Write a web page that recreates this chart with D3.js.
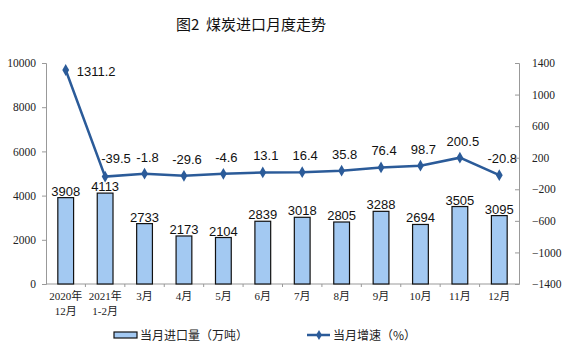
<!DOCTYPE html>
<html>
<head>
<meta charset="utf-8">
<script src="https://cdn.jsdelivr.net/npm/d3@7"></script>
<style>
  body { margin: 0; background: #fff; }
  svg { display: block; }
</style>
</head>
<body>
<div id="chart"></div>
<script>
// 数据
const months = ["2020年\n12月", "2021年\n1-2月", "3月", "4月", "5月", "6月", "7月", "8月", "9月", "10月", "11月", "12月"];
const imports = [3908, 4113, 2733, 2173, 2104, 2839, 3018, 2805, 3288, 2694, 3505, 3095];
const growth = [1311.2, -39.5, -1.8, -29.6, -4.6, 13.1, 16.4, 35.8, 76.4, 98.7, 200.5, -20.8];
const leftTicks = [0, 2000, 4000, 6000, 8000, 10000];
const rightTicks = [-1400, -1000, -600, -200, 200, 600, 1000, 1400];

const W = 568, H = 351;
const margin = { top: 63, right: 49, bottom: 67, left: 46 };
const plotW = W - margin.left - margin.right;
const plotH = H - margin.top - margin.bottom;

const svg = d3.select("#chart").append("svg")
    .attr("width", W)
    .attr("height", H);

// 标题
svg.append("text")
    .attr("x", 251)
    .attr("y", 30)
    .attr("text-anchor", "middle")
    .style("font-family", "'Noto Sans CJK SC'")
    .style("font-size", "15px")
    .style("white-space", "pre")
    .attr("fill", "#111")
    .text("图2  煤炭进口月度走势");

const g = svg.append("g")
    .attr("transform", `translate(${margin.left},${margin.top})`);

// 比例尺
const x = d3.scaleBand().domain(months).range([0, plotW]).paddingInner(0.6).paddingOuter(0.3);
const xStep = d3.scaleBand().domain(months).range([0, plotW]);
const yL = d3.scaleLinear().domain([0, 10000]).range([plotH, 0]);
const yR = d3.scaleLinear().domain([-1400, 1400]).range([plotH, 0]);

const axisFont = "'Liberation Serif', 'Noto Sans CJK SC'";

// 左轴
const leftAxis = g.append("g")
    .call(d3.axisLeft(yL).tickValues(leftTicks).tickFormat(d3.format("d")).tickSize(4).tickPadding(6));
leftAxis.select(".domain").attr("stroke", "#999");
leftAxis.selectAll(".tick line").attr("stroke", "#999");
leftAxis.selectAll("text").style("font-family", axisFont).style("font-size", "11.5px").attr("fill", "#222");

// 右轴
const rightAxis = g.append("g")
    .attr("transform", `translate(${plotW},0)`)
    .call(d3.axisRight(yR).tickValues(rightTicks).tickFormat(d3.format("d")).tickSize(-4).tickPadding(13));
rightAxis.select(".domain").attr("stroke", "#999");
rightAxis.selectAll(".tick line").attr("stroke", "#999");
rightAxis.selectAll("text").style("font-family", axisFont).style("font-size", "11.5px").attr("fill", "#222");

// X 轴
const bottom = g.append("g").attr("transform", `translate(0,${plotH})`);
bottom.append("line").attr("x1", 0).attr("x2", plotW).attr("stroke", "#999");
bottom.selectAll(".sep")
    .data(months.slice(1))
    .enter()
    .append("line")
    .attr("x1", d => xStep(d)).attr("x2", d => xStep(d))
    .attr("y1", 0).attr("y2", 3)
    .attr("stroke", "#999");
const xl = bottom.selectAll(".xl")
    .data(months)
    .enter()
    .append("text")
    .attr("text-anchor", "middle")
    .attr("transform", d => `translate(${xStep(d) + xStep.bandwidth() / 2},0)`)
    .style("font-family", axisFont)
    .style("font-size", "11px")
    .attr("fill", "#222");
xl.each(function (d) {
    d.split("\n").forEach((line, i) => {
        d3.select(this).append("tspan").attr("x", 0).attr("y", 16 + i * 15).text(line);
    });
});

// 柱子
g.selectAll(".bar")
    .data(imports)
    .enter()
    .append("rect")
    .attr("x", (d, i) => x(months[i]))
    .attr("y", d => yL(d))
    .attr("width", x.bandwidth())
    .attr("height", d => plotH - yL(d))
    .attr("fill", "#a3c9f2")
    .attr("stroke", "#111")
    .attr("stroke-width", 1.2);

g.selectAll(".barLabel")
    .data(imports)
    .enter()
    .append("text")
    .attr("x", (d, i) => x(months[i]) + x.bandwidth() / 2)
    .attr("y", d => yL(d) - 2)
    .attr("text-anchor", "middle")
    .style("font-family", "'Liberation Sans', Arial")
    .style("font-size", "13px")
    .attr("fill", "#111")
    .text(d => d);

// 折线
const cx = i => xStep(months[i]) + xStep.bandwidth() / 2;
const line = d3.line().x((d, i) => cx(i)).y(d => yR(d));
const lineColor = "#2b5b99";

g.append("path")
    .datum(growth)
    .attr("fill", "none")
    .attr("stroke", lineColor)
    .attr("stroke-width", 2.5)
    .attr("d", line);

g.selectAll(".dot")
    .data(growth)
    .enter()
    .append("path")
    .attr("d", d3.symbol(d3.symbolDiamond, 40))
    .attr("transform", (d, i) => `translate(${cx(i)},${yR(d)})`)
    .attr("fill", lineColor);

// 前两个标签放在点的右侧，避开折线
g.selectAll(".lineLabel")
    .data(growth)
    .enter()
    .append("text")
    .attr("x", (d, i) => i === 0 ? cx(i) + 11 : i === 1 ? cx(i) - 4 : cx(i) + 3)
    .attr("y", (d, i) => i === 0 ? yR(d) + 6 : i === 1 ? yR(d) - 14 : yR(d) - 12)
    .attr("text-anchor", (d, i) => i <= 1 ? "start" : "middle")
    .style("font-family", "'Liberation Sans', Arial")
    .style("font-size", "13px")
    .attr("fill", "#111")
    .text(d => d);

// 图例
const legend = svg.append("g").attr("transform", "translate(0,335)");
legend.append("rect")
    .attr("x", 114).attr("y", -3).attr("width", 23).attr("height", 6)
    .attr("fill", "#a3c9f2").attr("stroke", "#111").attr("stroke-width", 1.2);
legend.append("text")
    .attr("x", 140).attr("y", 5)
    .style("font-family", "'Noto Sans CJK SC'")
    .style("font-size", "12px")
    .attr("fill", "#222")
    .text("当月进口量（万吨）");
legend.append("line")
    .attr("x1", 307).attr("x2", 330).attr("y1", 0).attr("y2", 0)
    .attr("stroke", lineColor).attr("stroke-width", 2.5);
legend.append("path")
    .attr("d", d3.symbol(d3.symbolDiamond, 30))
    .attr("transform", "translate(319,0)")
    .attr("fill", lineColor);
legend.append("text")
    .attr("x", 333).attr("y", 5)
    .style("font-family", "'Noto Sans CJK SC'")
    .style("font-size", "12px")
    .attr("fill", "#222")
    .text("当月增速（%）");
</script>
</body>
</html>
